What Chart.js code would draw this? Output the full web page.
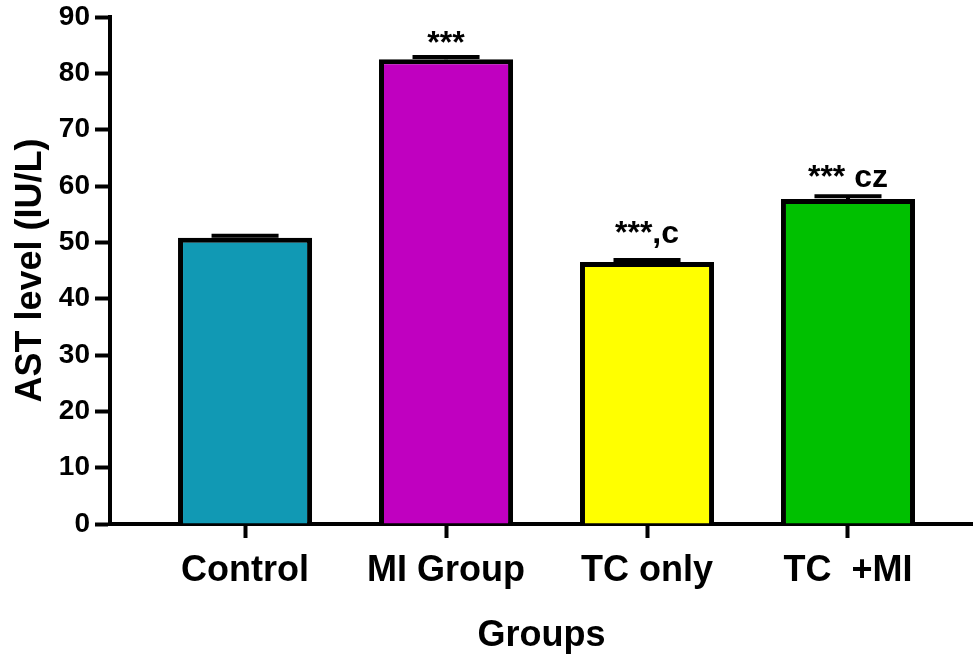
<!DOCTYPE html>
<html>
<head>
<meta charset="utf-8">
<script src="https://cdn.jsdelivr.net/npm/chart.js"></script>
<style>
  html, body { margin: 0; padding: 0; background: #fff; }
  #wrap { width: 973px; height: 656px; }
</style>
</head>
<body>
<div id="wrap"><canvas id="astChart" width="973" height="656"></canvas></div>
<script>
// values
const groups = ['Control', 'MI Group', 'TC only', 'TC  +MI'];
const astLevel = [50.8, 82.5, 46.5, 57.7];
const astSem = [0.35, 0.4, 0.35, 0.5];
const marks = ['', '***', '***,c', '*** cz'];
const barColors = ['#1199b4', '#c000c0', '#ffff00', '#00c000'];

const FONT = '"Liberation Sans", Arial, sans-serif';

const errorBars = {
    id: 'errorBars',
    afterDatasetsDraw(chart) {
        const { ctx } = chart;
        const y = chart.scales.y;
        const meta = chart.getDatasetMeta(0);
        ctx.save();
        ctx.strokeStyle = '#000';
        ctx.lineWidth = 4;
        meta.data.forEach((bar, i) => {
            const top = y.getPixelForValue(astLevel[i] + astSem[i]);
            const half = bar.width / 4;
            ctx.beginPath();
            ctx.moveTo(bar.x, bar.y);
            ctx.lineTo(bar.x, top);
            ctx.moveTo(bar.x - half, top);
            ctx.lineTo(bar.x + half, top);
            ctx.stroke();
        });
        ctx.restore();
    }
};

const sigMarks = {
    id: 'sigMarks',
    afterDatasetsDraw(chart, args, opts) {
        const { ctx } = chart;
        const y = chart.scales.y;
        const meta = chart.getDatasetMeta(0);
        ctx.save();
        ctx.fillStyle = '#000';
        ctx.font = 'bold 32px ' + FONT;
        ctx.textAlign = 'center';
        ctx.textBaseline = 'alphabetic';
        meta.data.forEach((bar, i) => {
            if (!marks[i]) return;
            const top = y.getPixelForValue(astLevel[i] + astSem[i]);
            ctx.fillText(marks[i], bar.x, top - opts.gaps[i]);
        });
        ctx.restore();
    }
};

new Chart(document.getElementById('astChart'), {
    type: 'bar',
    data: {
        datasets: [{
            data: astLevel.map((v, i) => ({ x: i, y: v })),
            backgroundColor: barColors,
            borderColor: '#000',
            borderWidth: 5,
            barPercentage: 0.667,
            categoryPercentage: 1
        }]
    },
    options: {
        responsive: false,
        animation: false,
        layout: { padding: { top: 17, right: 0, left: 0, bottom: 0 } },
        plugins: {
            legend: { display: false },
            tooltip: { enabled: false },
            sigMarks: { gaps: [0, 4, 17, 9] }
        },
        scales: {
            x: {
                type: 'linear',
                min: -0.672,
                max: 3.622,
                offset: false,
                z: 1,
                afterBuildTicks: (s) => { s.ticks = groups.map((_, i) => ({ value: i })); },
                afterFit: (s) => { s.height = 132; s.paddingLeft = 0; s.paddingRight = 0; },
                grid: { display: true, offset: false, drawOnChartArea: false, tickLength: 14, tickWidth: 4, tickColor: '#000' },
                border: { display: true, width: 4, color: '#000' },
                ticks: {
                    color: '#000',
                    padding: 11,
                    autoSkip: false,
                    maxRotation: 0,
                    font: { family: FONT, size: 36, weight: 'bold' },
                    callback: (v) => groups[v] ?? ''
                },
                title: {
                    display: true,
                    text: 'Groups',
                    color: '#000',
                    padding: { top: 0, bottom: 0 },
                    font: { family: FONT, size: 36, weight: 'bold', lineHeight: 1.1 }
                }
            },
            y: {
                min: 0,
                max: 90,
                z: 1,
                afterFit: (s) => { s.width = 110; s.paddingTop = 0; s.paddingBottom = 0; },
                grid: { display: true, drawOnChartArea: false, tickLength: 15, tickWidth: 4, tickColor: '#000' },
                border: { display: true, width: 4, color: '#000' },
                ticks: {
                    stepSize: 10,
                    color: '#000',
                    padding: 5,
                    font: { family: FONT, size: 28, weight: 'bold' }
                },
                title: {
                    display: true,
                    text: 'AST level (IU/L)',
                    color: '#000',
                    padding: { top: 9, bottom: 0 },
                    font: { family: FONT, size: 36, weight: 'bold' }
                }
            }
        }
    },
    plugins: [errorBars, sigMarks]
});
</script>
</body>
</html>
